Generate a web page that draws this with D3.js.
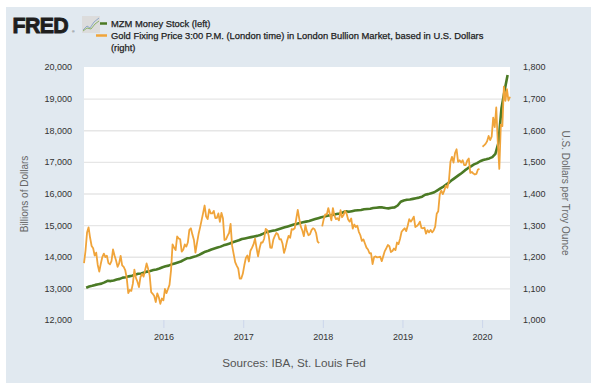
<!DOCTYPE html>
<html><head><meta charset="utf-8">
<script src="https://cdn.jsdelivr.net/npm/d3@7"></script>
<style>
html,body{margin:0;padding:0;background:#fff;}
text{font-family:"Liberation Sans",Arial,sans-serif;}
</style></head>
<body><svg id="c" width="598" height="387"></svg>
<script>
// ---- DATA ----
const leftTicks = [12000,13000,14000,15000,16000,17000,18000,19000,20000];
const rightTicks = [1000,1100,1200,1300,1400,1500,1600,1700,1800];
const yearTicks = ["2016","2017","2018","2019","2020"];
const seriesNames = ["MZM Money Stock (left)",
  "Gold Fixing Price 3:00 P.M. (London time) in London Bullion Market, based in U.S. Dollars",
  "(right)"];
const sourceText = "Sources: IBA, St. Louis Fed";

// Gold: weekly (Fridays) from 2015-01-02 to 2020-05-08, USD per troy ounce
const goldStart = "2015-01-02";
const gold2015 = [1180,1219,1277,1293,1260,1234,1227,1204,1213,1174,1153,1178,1199,1210,1199,1203,1180,1176,1186,1223,1204,1188,1168,1179,1203,1173,1168,1158,1132,1085,1095,1092,1115,1159,1133,1121,1104,1136,1146,1137,1157,1179,1162,1142,1088,1083,1076,1057,1084,1072,1051,1068];
const gold2016 = [1062,1098,1085,1098,1111,1157,1239,1229,1221,1264,1258,1255,1216,1222,1239,1232,1245,1285,1290,1270,1253,1213,1243,1271,1292,1315,1338,1362,1327,1319,1350,1337,1337,1345,1322,1323,1337,1310,1339,1322,1253,1255,1266,1275,1304,1235,1209,1183,1172,1163,1131,1131,1146];
const gold2017 = [1173,1196,1204,1185,1219,1228,1239,1257,1228,1201,1227,1245,1245,1257,1288,1284,1266,1229,1228,1254,1266,1275,1271,1255,1256,1242,1212,1228,1250,1266,1260,1287,1286,1290,1320,1348,1320,1295,1283,1265,1300,1280,1268,1271,1284,1290,1287,1275,1248,1243,null,1296];
const gold2018 = [1319,1334,1333,1354,1335,1315,1354,1330,1319,1322,1315,1347,1325,1332,1345,1336,1318,1311,1321,1289,1302,1294,1298,1279,1268,1250,1255,1242,1229,1223,1211,1211,1177,1199,1201,1198,1199,1200,1186,1202,1218,1227,1237,1233,1215,1218,1226,1221,1245,1240,1257,1279];
const gold2019 = [1285,1290,1281,1298,1319,1311,1318,1327,1294,1297,1302,1311,1291,1290,1292,1273,1284,1277,1285,1277,1283,1295,1336,1344,1397,1409,1398,1410,1425,1418,1440,1500,1516,1498,1528,1540,1500,1505,1498,1505,1490,1490,1504,1511,1465,1468,1463,1460,1462,1476,1478,null];
const gold2020 = [1548,1552,1557,1565,1582,1569,1580,1640,1610,1672,1562,1478,1618,1613,1738,1693,1730,1694,1706];

// MZM: biweekly (Mondays) from 2015-01-12 to 2020-04-27, billions of dollars
const mzmStart = "2015-01-12";
const mzm2015 = [13020,13060,13080,13110,13130,13150,13190,13240,13230,13250,13280,13300,13340,13350,13380,13400,13430,13460,13470,13500,13530,13550,13580,13600,13630,13670];
const mzm2016 = [13700,13720,13760,13790,13820,13850,13900,13950,13960,13990,14020,14060,14110,14160,14190,14230,14260,14290,14320,14360,14390,14420,14460,14490,14520,14560];
const mzm2017 = [14580,14600,14620,14640,14660,14690,14730,14780,14800,14820,14840,14870,14900,14930,14960,14990,15020,15040,15070,15090,15110,15130,15160,15190,15220,15250];
const mzm2018 = [15270,15300,15310,15330,15350,15370,15400,15440,15420,15440,15460,15470,15480,15500,15510,15520,15540,15550,15560,15560,15540,15530,15550,15560,15620,15740];
const mzm2019 = [15780,15800,15810,15830,15850,15870,15900,15960,15980,16010,16040,16100,16160,16220,16290,16360,16440,16510,16580,16650,16730,16800,16860,16920,16960,17020];
const mzm2020 = [17060,17080,17110,17150,17250,17600,18700,19250,19750];

// ---- BUILD ----
const parse = d3.timeParse("%Y-%m-%d");
const goldVals = [].concat(gold2015,gold2016,gold2017,gold2018,gold2019,gold2020);
const mzmVals = [].concat(mzm2015,mzm2016,mzm2017,mzm2018,mzm2019,mzm2020);
const gold = goldVals.map((v,i)=>({d:d3.timeDay.offset(parse(goldStart),7*i), v}));
const mzm = mzmVals.map((v,i)=>({d:d3.timeDay.offset(parse(mzmStart),14*i), v}));

const svg = d3.select("#c");
const W=598,H=387;
const P={l:84,r:510,t:67,b:320};
const green="#4b7a25", orange="#f0a43a", textC="#333", titleC="#666";

svg.append("rect").attr("x",0).attr("y",0).attr("width",W).attr("height",H).attr("fill","#fff");
svg.append("rect").attr("x",6).attr("y",7).attr("width",585).attr("height",376).attr("fill","#e1e9f0");
svg.append("rect").attr("x",P.l).attr("y",P.t).attr("width",P.r-P.l).attr("height",P.b-P.t).attr("fill","#fff");

const x = d3.scaleTime().domain([parse("2015-01-02"),parse("2020-05-08")]).range([P.l,P.r]);
const yL = d3.scaleLinear().domain([12000,20000]).range([P.b,P.t]);
const yR = d3.scaleLinear().domain([1000,1800]).range([P.b,P.t]);

// gridlines
const grid = svg.append("g").attr("transform",`translate(${P.l},0)`)
  .call(d3.axisRight(yL).tickValues(leftTicks.slice(1,-1)).tickSize(P.r-P.l).tickFormat(""));
grid.select(".domain").remove();
grid.selectAll("line").attr("stroke","#e6e6e6").attr("stroke-width",1.3);

// left axis
const gl = svg.append("g").attr("transform",`translate(72,0)`)
  .call(d3.axisLeft(yL).tickValues(leftTicks).tickSize(0).tickPadding(0).tickFormat(d3.format(",")));
gl.select(".domain").remove();
gl.selectAll("text").attr("font-size",9).attr("fill",textC).attr("font-family","Liberation Sans, Arial, sans-serif");

// right axis
const gr = svg.append("g").attr("transform",`translate(523,0)`)
  .call(d3.axisRight(yR).tickValues(rightTicks).tickSize(0).tickPadding(0).tickFormat(d3.format(",")));
gr.select(".domain").remove();
gr.selectAll("text").attr("font-size",9).attr("fill",textC).attr("font-family","Liberation Sans, Arial, sans-serif");

// bottom axis
const gx = svg.append("g").attr("transform",`translate(0,${P.b})`)
  .call(d3.axisBottom(x).tickValues(yearTicks.map(y=>parse(y+"-01-01"))).tickSize(8).tickPadding(6).tickFormat(d3.timeFormat("%Y")));
gx.select(".domain").remove();
gx.selectAll("line").attr("stroke","#ccd6eb");
gx.selectAll("text").attr("font-size",9).attr("fill",textC).attr("font-family","Liberation Sans, Arial, sans-serif");

// axis titles
svg.append("text").attr("transform","translate(28,194) rotate(-90)").attr("text-anchor","middle")
  .attr("font-size",10).attr("fill",titleC).text("Billions of Dollars");
svg.append("text").attr("transform","translate(562,193) rotate(90)").attr("text-anchor","middle")
  .attr("font-size",10).attr("fill",titleC).text("U.S. Dollars per Troy Ounce");

// lines
const lineM = d3.line().x(d=>x(d.d)).y(d=>yL(d.v));
const lineG = d3.line().defined(d=>d.v!=null).x(d=>x(d.d)).y(d=>yR(d.v));
svg.append("path").datum(mzm).attr("d",lineM).attr("fill","none").attr("stroke",green)
  .attr("stroke-width",2.6).attr("stroke-linejoin","round");
svg.append("path").datum(gold).attr("d",lineG).attr("fill","none").attr("stroke",orange)
  .attr("stroke-width",1.8).attr("stroke-linejoin","round");

// legend
const lg = svg.append("g");
lg.append("line").attr("x1",96).attr("x2",107).attr("y1",23.5).attr("y2",23.5).attr("stroke",green).attr("stroke-width",2.5);
lg.append("line").attr("x1",96).attr("x2",107).attr("y1",35.5).attr("y2",35.5).attr("stroke",orange).attr("stroke-width",2.5);
[[27.2,0],[39,1],[50.6,2]].forEach(([yy,i])=>{
  lg.append("text").attr("x",111).attr("y",yy).attr("font-size",9.4).attr("fill","#222")
    .attr("stroke","#222").attr("stroke-width",0.25).text(seriesNames[i]);
});

// FRED logo
svg.append("text").attr("x",12.5).attr("y",33).attr("font-size",21.3).attr("font-weight","bold")
  .attr("fill","#1e1e1e").attr("stroke","#1e1e1e").attr("stroke-width",0.9).attr("letter-spacing",-0.6).text("FRED");
svg.append("text").attr("x",72).attr("y",33).attr("font-size",3.5).attr("fill","#333").text("®");
const ic = svg.append("g");
ic.append("rect").attr("x",82).attr("y",16).attr("width",18).attr("height",17).attr("fill","#dcdcdc");
ic.append("polyline").attr("points","83,30 87,26 90,28 94,22 99,18").attr("fill","none").attr("stroke","#8fa8c8").attr("stroke-width",1);
ic.append("polyline").attr("points","83,31 87,28 91,29 95,24 99,21").attr("fill","none").attr("stroke","#8cb36a").attr("stroke-width",1);

// source
svg.append("text").attr("x",294).attr("y",367).attr("text-anchor","middle").attr("font-size",11.7)
  .attr("fill","#555").text(sourceText);
</script></body></html>
